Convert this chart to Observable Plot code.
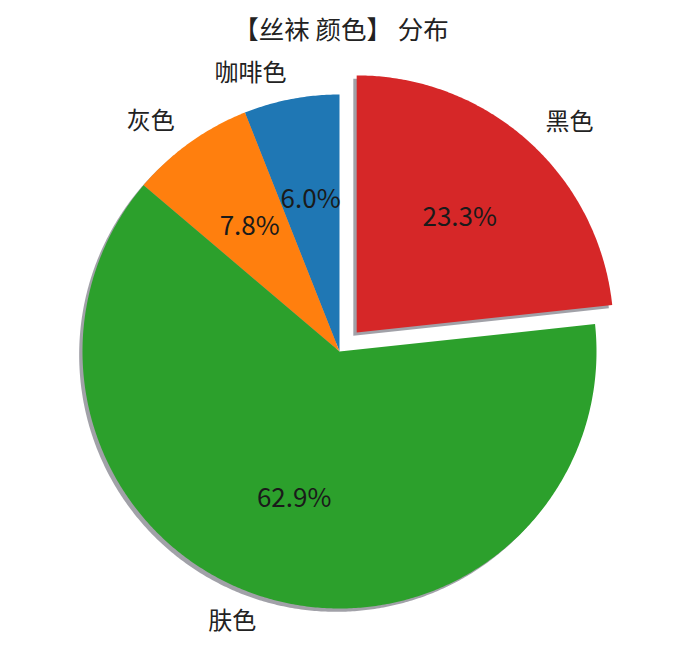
<!DOCTYPE html>
<html>
<head>
<meta charset="utf-8">
<script src="https://cdn.jsdelivr.net/npm/d3@7"></script>
<script src="https://cdn.jsdelivr.net/npm/@observablehq/plot@0.6"></script>
<style>
  body { margin: 0; background: #ffffff; }
  #title { width: 682px; height: 44px; padding-top: 6px; line-height: 44px; text-align: center;
           font-family: "Noto Sans CJK SC", sans-serif; font-size: 25.5px; color: #222; }
</style>
</head>
<body>
<div id="title">【丝袜 颜色】 分布</div>
<div id="chart"></div>
<script>
const titleText = "【丝袜 颜色】 分布";
const labels = ["咖啡色", "灰色", "肤色", "黑色"];
const values = [6.0, 7.8, 62.9, 23.3];
const explode = [0, 0, 0, 0.1];
const colors = ["#1f77b4", "#ff7f0e", "#2ca02c", "#d62728"];

const W = 682, H = 610, R = 257, CX = 339, CY = 301;
const total = d3.sum(values);
const startAngle = 90;

// build slices
let a0 = startAngle;
const slices = values.map((v, i) => {
  const span = v / total * 360;
  const s = {i, label: labels[i], value: v, color: colors[i], a0, a1: a0 + span, mid: a0 + span / 2};
  a0 += span;
  const m = s.mid * Math.PI / 180;
  s.ox = explode[i] * Math.cos(m);
  s.oy = explode[i] * Math.sin(m);
  return s;
});

function polygon(s, dx, dy) {
  const pts = [{x: s.ox + dx, y: s.oy + dy}];
  const n = Math.max(2, Math.ceil((s.a1 - s.a0) / 0.5));
  for (let k = 0; k <= n; k++) {
    const a = (s.a0 + (s.a1 - s.a0) * k / n) * Math.PI / 180;
    pts.push({x: s.ox + dx + Math.cos(a), y: s.oy + dy + Math.sin(a)});
  }
  pts.push({x: s.ox + dx, y: s.oy + dy});
  return pts;
}

const shadowDx = -0.013, shadowDy = -0.013;
const marks = [];
slices.forEach(s => {
  marks.push(Plot.line(polygon(s, shadowDx, shadowDy), {x: "x", y: "y", fill: "#6f6f7a", fillOpacity: 0.65, stroke: "none"}));
});
slices.forEach(s => {
  marks.push(Plot.line(polygon(s, 0, 0), {x: "x", y: "y", fill: s.color, stroke: "none"}));
});

const lab = slices.map(s => {
  const m = s.mid * Math.PI / 180;
  return {label: s.label, x: s.ox + 1.1 * Math.cos(m), y: s.oy + 1.1 * Math.sin(m),
          px: s.ox + 0.6 * Math.cos(m), py: s.oy + 0.6 * Math.sin(m),
          pct: s.value.toFixed(1) + "%", right: Math.cos(m) >= 0};
});

const font = "Noto Sans CJK SC";
marks.push(Plot.text(lab.filter(d => d.right), {x: "x", y: "y", text: "label", textAnchor: "start", fontSize: 24, fontFamily: font, fill: "#222"}));
marks.push(Plot.text(lab.filter(d => !d.right), {x: "x", y: "y", text: "label", textAnchor: "end", fontSize: 24, fontFamily: font, fill: "#222"}));
marks.push(Plot.text(lab, {x: "px", y: "py", text: "pct", textAnchor: "middle", fontSize: 26, fontFamily: font, fill: "#1a1a1a", letterSpacing: "-1px"}));

const chart = Plot.plot({
  width: W, height: H, margin: 0,
  x: {domain: [-CX / R, (W - CX) / R], axis: null},
  y: {domain: [-(H - CY) / R, CY / R], axis: null},
  marks
});
document.getElementById("chart").appendChild(chart);
</script>
</body>
</html>
